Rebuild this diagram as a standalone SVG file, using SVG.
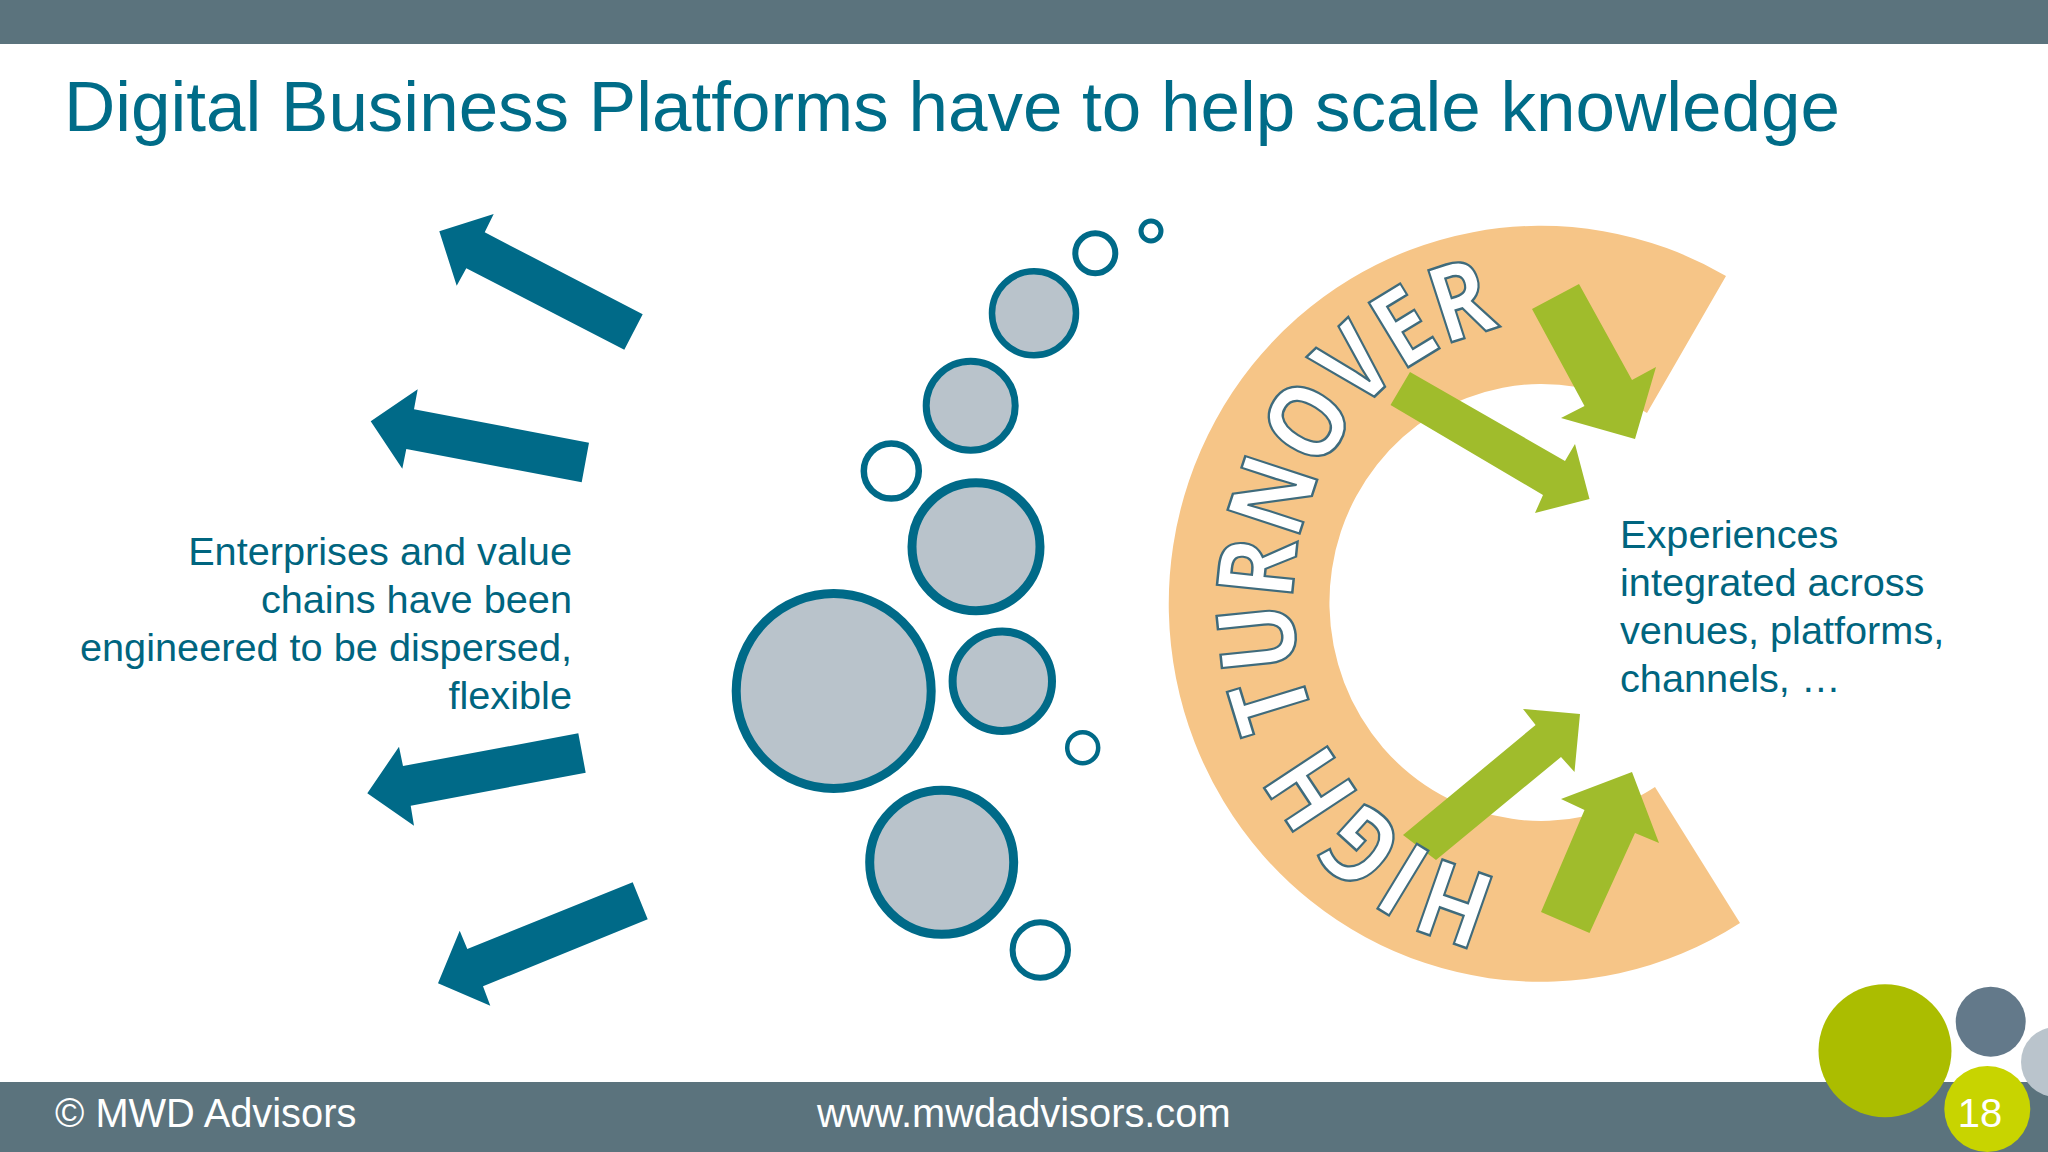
<svg xmlns="http://www.w3.org/2000/svg" width="2048" height="1152" viewBox="0 0 2048 1152">
<defs>
<style>
text{font-family:"Liberation Sans",Arial,sans-serif}
.bar{fill:#5b737d}
.title{font-size:71px;fill:#006c88}
.body{font-size:39.7px;fill:#00657f}
.foot{font-size:39.8px;fill:#fff}
.blue{fill:#006a88}
.green{fill:#a0bc2c}
.c{fill:#b9c3cb;stroke:#006a88}
.o{fill:#fff;stroke:#006a88}
.wa{font-family:"Open Sans",sans-serif;font-size:106px;font-weight:700;fill:#fff;stroke:#3f6b7c;stroke-width:2.5px}
</style>
<path id="wa-path" d="M1500 877A248 278 0 0 1 1510 327"/>
</defs>
<rect width="2048" height="1152" fill="#fff"/>
<g id="top-bar"><rect class="bar" width="2048" height="44"/></g>
<g id="title"><text class="title" x="64" y="131">Digital Business Platforms have to help scale knowledge</text></g>
<g id="dispersal-arrows">
<polygon class="blue" points="439.3,231.3 493.7,214 484.7,232.3 642.7,314.3 624.3,349.7 466.3,268.3 456.7,285.7"/>
<polygon class="blue" points="370.7,421.3 417.7,389.3 414,409.3 589,442.7 581.7,482.3 406.3,449 402.3,468.7"/>
<polygon class="blue" points="367.3,793.3 399,746.7 403,766 578.3,733.3 585.7,772.7 410.7,805.7 414,825.7"/>
<polygon class="blue" points="438,983.3 459.7,930.7 467.3,949 632.7,882.3 647.7,919.3 483,986.3 490.3,1005.7"/>
</g>
<g id="left-text">
<text class="body" text-anchor="end" x="572" y="564.5">Enterprises and value</text>
<text class="body" text-anchor="end" x="572" y="612.5">chains have been</text>
<text class="body" text-anchor="end" x="572" y="660.5">engineered to be dispersed,</text>
<text class="body" text-anchor="end" x="572" y="708.5">flexible</text>
</g>
<g id="bubbles">
<circle class="o" cx="1151" cy="231" r="10" stroke-width="5"/>
<circle class="o" cx="1095.3" cy="253.3" r="20" stroke-width="6"/>
<circle class="c" cx="1034" cy="313.3" r="42" stroke-width="6.5"/>
<circle class="c" cx="970.7" cy="405.7" r="44.5" stroke-width="7"/>
<circle class="o" cx="891.3" cy="471" r="27.5" stroke-width="6.5"/>
<circle class="c" cx="976" cy="546.7" r="64" stroke-width="9"/>
<circle class="c" cx="833.7" cy="691" r="97.5" stroke-width="9"/>
<circle class="c" cx="1002.3" cy="681.3" r="49.7" stroke-width="8"/>
<circle class="o" cx="1082.7" cy="747.7" r="15.5" stroke-width="4.5"/>
<circle class="c" cx="941.7" cy="862.3" r="72" stroke-width="9"/>
<circle class="o" cx="1040.3" cy="950" r="27.7" stroke-width="6"/>
</g>
<g id="turnover-ring">
<path fill="#f6c587" d="M1726 276A372 378 0 1 0 1740 923L1655 787A212 218.5 0 1 1 1647 413Z"/>
</g>
<g id="inflow-arrows">
<polygon class="green" points="1532,309 1579,284 1632,380 1656,367 1635,439 1561,418 1584.5,406"/>
<polygon class="green" points="1410,372 1565,461 1575,444 1589.5,499 1535,513 1543,495 1390.5,405"/>
<polygon class="green" points="1403,835 1535.6,725 1523,709 1580,714 1574.5,772 1561,757 1436,860"/>
<polygon class="green" points="1541,912 1584.5,810 1561,799 1632,772 1659,843 1635,833 1589.5,933"/>
</g>
<g id="high-turnover">
<text class="wa"><textPath href="#wa-path" textLength="745" lengthAdjust="spacingAndGlyphs">HIGH TURNOVER</textPath></text>
</g>
<g id="right-text">
<text class="body" x="1620" y="547.5">Experiences</text>
<text class="body" x="1620" y="595.5">integrated across</text>
<text class="body" x="1620" y="643.5">venues, platforms,</text>
<text class="body" x="1620" y="691.5">channels, …</text>
</g>
<g id="footer">
<rect class="bar" y="1082" width="2048" height="70"/>
<text class="foot" x="55" y="1127">© MWD Advisors</text>
<text class="foot" x="817" y="1127">www.mwdadvisors.com</text>
</g>
<g id="corner-dots">
<circle cx="2056" cy="1062" r="35" fill="#bac4cc"/>
<circle cx="1990.7" cy="1021.7" r="35" fill="#63798a"/>
<circle cx="1885" cy="1050.7" r="66.5" fill="#abbd00"/>
<circle cx="1987.3" cy="1109" r="43" fill="#c8d400"/>
<text x="1980" y="1127" font-size="40" fill="#fff" text-anchor="middle">18</text>
</g>
</svg>
